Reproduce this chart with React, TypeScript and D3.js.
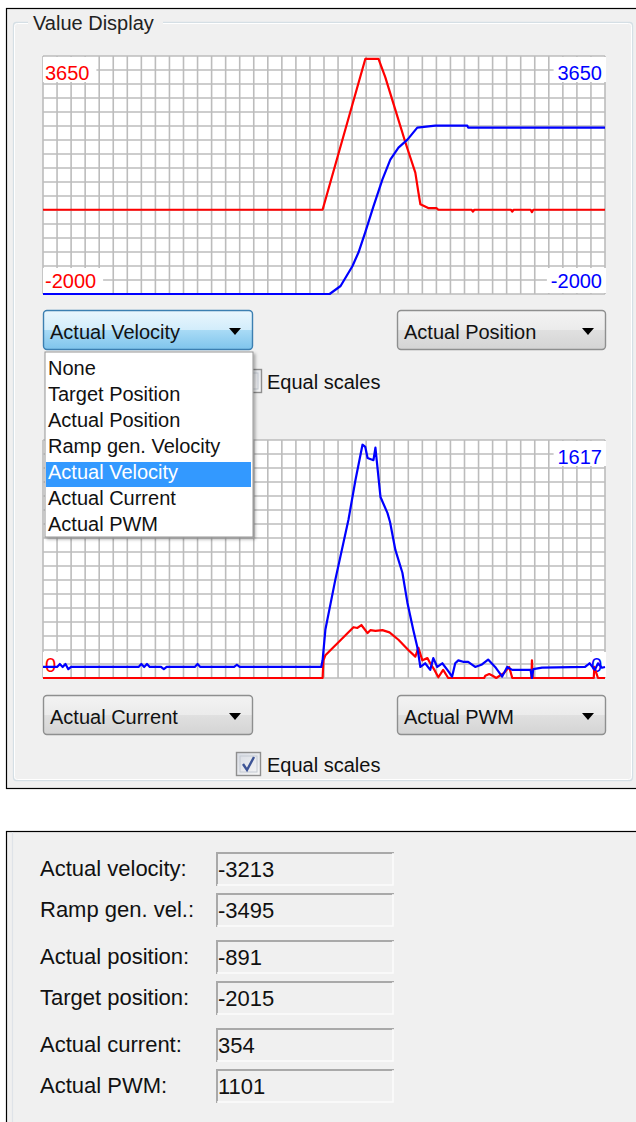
import React from "react";
import * as d3 from "d3";

// time axis of the scope (sample index), both plots share it
const timeSpan = [0, 200];

// upper scope: left = Actual Velocity (red), right = Actual Position (blue)
const upperLimits = [-2000, 3650];
const upperVelocity: [number, number][] = [
  [0, 0], [99.5, 0], [114.7, 3580], [119.4, 3580], [121.8, 3150], [125.4, 2370],
  [129, 1590], [132.5, 880], [133.6, 410], [134.3, 130], [137.1, 40], [140, 40],
  [140.7, 0], [152.5, 0], [153, -45], [153.5, 0], [166.5, 0], [167, -45], [167.5, 0],
  [173.5, 0], [174, -55], [174.5, 0], [200, 0],
];
const upperPosition: [number, number][] = [
  [0, -2000], [102, -2000], [105.9, -1810], [110.1, -1340], [112.3, -1010],
  [114.7, -530], [117.6, 80], [120.8, 720], [123.6, 1190], [126.5, 1475],
  [129.7, 1665], [133.2, 1950], [139.6, 1995], [151, 1995], [151.3, 1950], [200, 1950],
];

// lower scope: left = Actual Current (red), right = Actual PWM (blue)
const lowerLimits = [0, 1617];
const lowerCurrent: [number, number][] = [
  [0, 0], [99.5, 0], [99.8, 120], [100.5, 155], [110.5, 345], [111.9, 340],
  [113.3, 360], [115.5, 305], [116.5, 325], [118.3, 320], [120.8, 325], [123.3, 310],
  [126.5, 260], [130, 190], [132.5, 145], [133.6, 205], [135, 120], [136.8, 135],
  [137.8, 100], [139.3, 55], [140.7, 5], [142.4, 55], [144.2, 0], [157, 0],
  [157.4, 15], [158.8, 27], [160, 15], [161.3, 0], [164.1, 35], [165.9, 75],
  [167, 0], [173.8, 0], [174, 120], [174.3, 0], [196, 0], [196.2, 75], [197.5, 0],
  [200, 0],
];
const lowerPwm: [number, number][] = [
  [0, 75], [5, 75], [6, 95], [7, 75], [8, 95], [9, 60], [10, 75], [34, 75], [35, 95],
  [36, 75], [37, 95], [38, 75], [42, 75], [43, 60], [44, 75], [54, 75], [55, 95],
  [56, 75], [68, 75], [69, 90], [70, 75], [99, 75], [99.5, 120], [100.5, 330],
  [104, 665], [108.7, 1075], [111.2, 1345], [113.7, 1585], [114.7, 1570],
  [115.5, 1495], [117.6, 1480], [118.3, 1565], [120.1, 1230], [122.6, 1120],
  [123.5, 1060], [125.4, 870], [127.9, 715], [129.7, 510], [131.8, 325], [133.2, 210],
  [134.3, 75], [136, 100], [137.8, 55], [138.9, 135], [140.3, 75], [142.1, 100],
  [143.9, 55], [145.6, 10], [146.7, 100], [147.8, 120], [149.5, 110], [151.3, 110],
  [153.8, 75], [156, 90], [158.4, 125], [160.9, 75], [163.4, 10], [165.2, 75],
  [167, 55], [173.5, 55], [174, 0], [174.5, 60], [177.6, 70], [192.9, 75],
  [194.5, 100], [196.4, 55], [197.5, 100], [198.9, 70], [200, 75],
];

const channelChoices = [
  "None", "Target Position", "Actual Position", "Ramp gen. Velocity",
  "Actual Velocity", "Actual Current", "Actual PWM",
];
const readoutLabels = [
  "Actual velocity:", "Ramp gen. vel.:", "Actual position:",
  "Target position:", "Actual current:", "Actual PWM:",
];
const readoutValues = ["-3213", "-3495", "-891", "-2015", "354", "1101"];

const FONT = "'Liberation Sans', Arial, sans-serif";
const RED = "#ff0000";
const BLUE = "#0000ff";
const BG = "#f0f0f0";

const plotLeft = 43;
const plotRight = 605;
const cols = 40;
const rows = 17;

const textWidth = (s: string) =>
  s.split("").reduce((a, c) => a + (c === "-" ? 6.7 : 11.1), 0);

const Scope = ({ top, limits, leftSeries, rightSeries, hideLeftTop }: any) => {
  const bottom = top + 238;
  const x = d3.scaleLinear().domain(timeSpan).range([plotLeft, plotRight]);
  const y = d3.scaleLinear().domain(limits).range([bottom, top]);
  const gx = d3.scaleLinear().domain([0, cols]).range([plotLeft, plotRight]);
  const gy = d3.scaleLinear().domain([0, rows]).range([top, bottom]);
  const line = d3
    .line<[number, number]>()
    .x((d) => x(d[0]))
    .y((d) => y(d[1]));

  const hi = String(limits[1]);
  const lo = String(limits[0]);
  const label = (txt: string, side: string, pos: string, color: string) => {
    const w = textWidth(txt);
    const base = pos === "top" ? top + 24 : bottom - 6;
    const boxY = pos === "top" ? top + 1 : bottom - 26;
    if (side === "left") {
      return (
        <g key={side + pos}>
          <rect x={plotLeft} y={boxY} width={w + 9} height={25} fill="#fff" />
          <text x={plotLeft + 2} y={base} fill={color} fontSize={20}>{txt}</text>
        </g>
      );
    }
    return (
      <g key={side + pos}>
        <rect x={plotRight - 3 - w - 4} y={boxY} width={w + 8} height={25} fill="#fff" />
        <text x={plotRight - 3} y={base} fill={color} fontSize={20} textAnchor="end">{txt}</text>
      </g>
    );
  };

  return (
    <g fontFamily={FONT}>
      <rect x={plotLeft} y={top} width={plotRight - plotLeft} height={bottom - top} fill="#fff" />
      {d3.range(cols + 1).map((i) => (
        <line key={"v" + i} x1={gx(i)} x2={gx(i)} y1={top} y2={bottom} stroke="#bcbcbc" strokeWidth={1.6} />
      ))}
      {d3.range(rows + 1).map((i) => (
        <line key={"h" + i} x1={plotLeft} x2={plotRight} y1={gy(i)} y2={gy(i)} stroke="#bcbcbc" strokeWidth={1.6} />
      ))}
      {!hideLeftTop && label(hi, "left", "top", RED)}
      {label(lo, "left", "bottom", RED)}
      {label(hi, "right", "top", BLUE)}
      {label(lo, "right", "bottom", BLUE)}
      <path d={line(leftSeries) || ""} fill="none" stroke={RED} strokeWidth={2.2} strokeLinejoin="round" />
      <path d={line(rightSeries) || ""} fill="none" stroke={BLUE} strokeWidth={2.2} strokeLinejoin="round" />
    </g>
  );
};

const Combo = ({ x, y, w, text, active }: any) => (
  <g fontFamily={FONT}>
    <rect x={x + 0.5} y={y + 0.5} width={w} height={39} rx={3.5}
      fill={active ? "url(#comboActive)" : "url(#comboNormal)"}
      stroke={active ? "#3c7fb1" : "#8e8f8f"} strokeWidth={1.4} />
    <text x={x + 7} y={y + 29} fontSize={20} fill="#111">{text}</text>
    <path d={`M${x + w - 23},${y + 18} h12 l-6,7 z`} fill="#000" />
  </g>
);

const CheckBox = ({ x, y, checked }: any) => (
  <g>
    <rect x={x + 0.5} y={y + 0.5} width={24} height={23} fill="url(#checkFill)" stroke="#8f8f8f" strokeWidth={1.4} />
    <rect x={x + 4} y={y + 4} width={17} height={16} fill="none" stroke="#c4c9d2" strokeWidth={1} />
    {checked && (
      <path d={`M${x + 7},${y + 12} l4,6 l7,-13`} fill="none" stroke="#3d5496" strokeWidth={2.4} />
    )}
  </g>
);

const App = () => {
  const listTop = 352;
  const rowH = 26;
  return (
    <svg width={636} height={1122} style={{ position: "absolute", left: 0, top: 0 }}>
      <defs>
        <linearGradient id="comboNormal" x1="0" y1="0" x2="0" y2="1">
          <stop offset="0" stopColor="#f3f3f3" />
          <stop offset="0.5" stopColor="#ebebeb" />
          <stop offset="0.5" stopColor="#e0e0e0" />
          <stop offset="1" stopColor="#d4d4d4" />
        </linearGradient>
        <linearGradient id="comboActive" x1="0" y1="0" x2="0" y2="1">
          <stop offset="0" stopColor="#eaf6fd" />
          <stop offset="0.5" stopColor="#d2edfb" />
          <stop offset="0.5" stopColor="#a9dbf6" />
          <stop offset="1" stopColor="#7fc4ec" />
        </linearGradient>
        <linearGradient id="checkFill" x1="0" y1="0" x2="1" y2="1">
          <stop offset="0" stopColor="#d8dce4" />
          <stop offset="1" stopColor="#f6f6f6" />
        </linearGradient>
        <filter id="shadow" x="-10%" y="-10%" width="130%" height="130%">
          <feDropShadow dx="2" dy="2" stdDeviation="1.5" floodColor="#000" floodOpacity="0.3" />
        </filter>
      </defs>

      <rect width={636} height={1122} fill="#fff" />

      {/* upper window */}
      <rect x={6.5} y={8.5} width={640} height={780} fill={BG} stroke="#000" strokeWidth={1.2} />
      <rect x={13.5} y={22.5} width={619} height={758} rx={3} fill="none" stroke="#d5dfe5" strokeWidth={1.3} />
      <rect x={14.5} y={23.5} width={617} height={756} rx={3} fill="none" stroke="#fff" strokeWidth={1} />
      <rect x={28} y={10} width={135} height={24} fill={BG} />
      <text x={33} y={30} fontFamily={FONT} fontSize={20} fill="#222">Value Display</text>

      <Scope top={56} limits={upperLimits} leftSeries={upperVelocity} rightSeries={upperPosition} />
      <Combo x={43} y={310} w={209} text="Actual Velocity" active />
      <Combo x={397} y={310} w={208} text="Actual Position" />
      <CheckBox x={237} y={369} checked={false} />
      <text x={267} y={389} fontFamily={FONT} fontSize={20} fill="#111">Equal scales</text>

      {/* left top label of the lower scope sits under the opened list */}
      <Scope top={440} limits={lowerLimits} leftSeries={lowerCurrent} rightSeries={lowerPwm} hideLeftTop />
      <Combo x={43} y={695} w={209} text="Actual Current" />
      <Combo x={397} y={695} w={208} text="Actual PWM" />
      <CheckBox x={236} y={752} checked />
      <text x={267} y={772} fontFamily={FONT} fontSize={20} fill="#111">Equal scales</text>

      {/* opened drop-down list */}
      <g fontFamily={FONT} fontSize={20}>
        <rect x={45} y={listTop} width={208} height={185} fill="#fff" stroke="#969696" strokeWidth={1} filter="url(#shadow)" />
        {channelChoices.map((c, i) => {
          const sel = c === "Actual Velocity";
          return (
            <g key={c}>
              {sel && <rect x={46} y={listTop + 6 + i * rowH} width={205} height={rowH - 1} fill="#3399ff" />}
              <text x={48} y={listTop + 23 + i * rowH} fill={sel ? "#fff" : "#111"}>{c}</text>
            </g>
          );
        })}
      </g>

      {/* readout window */}
      <rect x={6.5} y={831.5} width={640} height={300} fill={BG} stroke="#000" strokeWidth={1.2} />
      <line x1={12.5} x2={12.5} y1={832} y2={1122} stroke="#dfe3e8" strokeWidth={1.2} />
      <g fontFamily={FONT} fontSize={22} fill="#111">
        {readoutLabels.map((lab, i) => {
          const boxY = 852 + i * 41 + Math.floor(i / 2) * 6;
          return (
            <g key={lab}>
              <text x={40} y={boxY + 24}>{lab}</text>
              <rect x={216} y={boxY} width={178} height={34} fill={BG} />
              <path d={`M217,${boxY + 34} V${boxY + 1} H394`} fill="none" stroke="#a9a9a9" strokeWidth={2} />
              <path d={`M217,${boxY + 33} H393 V${boxY + 1}`} fill="none" stroke="#fbfbfb" strokeWidth={1.5} />
              <text x={218} y={boxY + 25}>{readoutValues[i]}</text>
            </g>
          );
        })}
      </g>
    </svg>
  );
};

export default App;
